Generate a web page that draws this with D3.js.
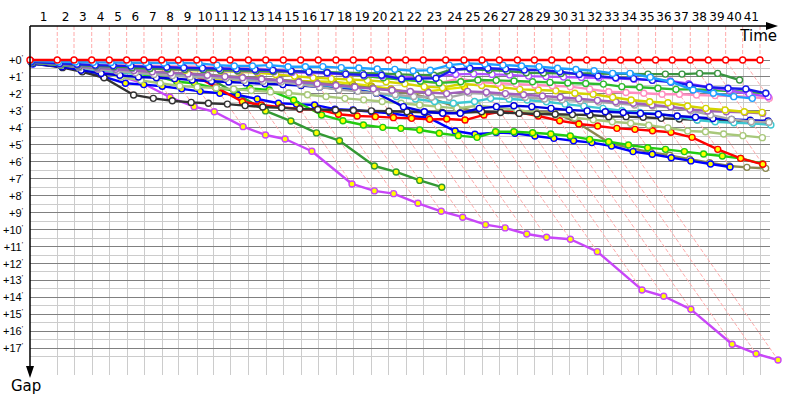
<!DOCTYPE html>
<html><head><meta charset="utf-8">
<script src="https://cdn.jsdelivr.net/npm/d3@7"></script>
<style>
body{margin:0;background:#fff}
svg{display:block;font-family:Tahoma,"DejaVu Sans",Verdana,sans-serif}
</style>
</head><body>
<svg id="chart" width="800" height="400"></svg>
<script>
// leader lap times (gap units)
const lapTimes = [2.31,1.42,1.50,1.49,1.47,1.47,1.50,1.41,1.56,1.41, 1.42,1.55,1.47,1.49,1.47,1.49,1.50,1.47,1.50,1.47, 1.47,1.49,1.90,1.55,1.53,1.47,1.53,1.44,1.47,1.49, 1.47,1.41,1.47,1.49,1.47,1.41,1.53,1.53,1.47,1.44, 1.47];
const lapLabels = ["1","2","3","4","5","6","7","8","9","10","11","12","13","14","15","16","17","18","19","20","21","22","23","24","25","26","27","28","29","30","31","32","33","34","35","36","37","38","39","40","41"];
const gapTicks = [0,1,2,3,4,5,6,7,8,9,10,11,12,13,14,15,16,17];

// gaps per lap (lap 0 = start)
const gapsLeader = [0,0,0,0,0,0,0,0,0,0, 0,0,0,0,0,0,0,0,0,0, 0,0,0,0,0,0,0,0,0,0, 0,0,0,0,0,0,0,0,0,0, 0,0];
const gapsSkyBlue = [0.05,0.1,0.12,0.14,0.15,0.16,0.16,0.18,0.18,0.2, 0.3,0.35,0.35,0.3,0.4,0.4,0.39,0.45,0.47,0.53, 0.55,0.63,0.6,0.3,0.2,0.24,0.3,0.35,0.39,0.49, 0.56,0.63,0.79,0.79,1.02,1.28,1.77,1.96,2.16,2.26];
const gapsBlueA = [0.1,0.2,0.25,0.3,0.33,0.36,0.4,0.43,0.46,0.48, 0.5,0.53,0.56,0.6,0.65,0.7,0.75,0.83,0.88,0.9, 1.12,1.1,1.08,0.59,0.49,0.49,0.53,0.59,0.59,0.69, 0.85,0.95,1.05,1.1,1.2,1.3,1.47,1.61,1.67,1.71, 1.96];
const gapsDarkGreenA = [0.1,0.22,0.3,0.35,0.4,0.45,0.5,0.52,0.55,0.57, 0.6,0.62,0.64,0.66,0.68,0.7,0.72,0.75,0.78,0.8, 0.85,0.88,0.9,0.55,0.55,0.59,0.65,0.75,0.77,0.79, 0.8,0.8,0.81,0.82,0.83,0.83,0.83,0.79,0.79,1.18];
const gapsViolet = [0.12,0.25,0.35,0.4,0.45,0.48,0.5,0.53,0.56,0.6, 0.62,0.65,0.68,0.7,0.73,0.76,0.8,0.85,0.9,0.95, 1.0,1.02,0.98,0.85,0.82,0.85,0.88,0.95,0.98,1.0, 1.03,1.05,1.08,1.14,1.18,1.24,1.4,1.6,1.8,2.0, 2.16];
const gapsGreenA = [0.15,0.3,0.38,0.42,0.45,0.48,0.5,0.52,0.55,0.58, 0.6,0.62,0.64,0.66,0.68,0.69,0.75,0.85,0.95,1.05, 1.15,1.25,1.35,1.28,1.18,1.2,1.24,1.28,1.32,1.36, 1.39,1.42,1.57,1.61,1.67,1.73,1.73,1.77,1.83,1.87, 1.96];
const gapsPink = [0.1,0.2,0.25,0.28,0.3,0.32,0.34,0.36,0.38,0.4, 0.42,0.45,0.5,0.55,0.62,0.7,0.78,0.86,0.95,1.05, 1.15,1.25,1.37,1.1,1.3,1.37,1.42,1.47,1.52,1.57, 1.72,1.87,1.92,1.96,2.02,2.02,2.06,2.1,2.12,2.2, 2.26];
const gapsYellow = [0.1,0.2,0.3,0.35,0.4,0.45,0.5,0.55,0.6,0.62, 0.65,0.7,0.75,0.85,0.95,1.05,1.1,1.15,1.2,1.28, 1.4,1.57,1.63,1.4,1.5,1.61,1.73,1.77,1.81,1.96, 2.02,2.2,2.36,2.46,2.52,2.71,2.85,2.95,3.05,3.09];
const gapsOrchid = [0.15,0.3,0.4,0.48,0.55,0.62,0.7,0.76,0.82,0.9, 0.98,1.05,1.12,1.2,1.3,1.4,1.5,1.6,1.7,1.78, 1.86,1.92,1.98,1.85,1.9,1.98,2.05,2.12,2.2,2.28, 2.38,2.46,2.55,2.65,2.75,2.91,3.01,3.05,3.09,3.14];
const gapsGray = [0.15,0.3,0.45,0.55,0.65,0.75,0.85,0.92,1.0,1.05, 1.08,1.2,1.25,1.3,1.45,1.6,1.75,1.85,1.95,2.05, 2.15,2.2,2.2,1.95,2.0,2.1,2.2,2.3,2.35,2.42, 2.48,2.55,2.65,2.71,2.79,2.99,3.24,3.5,3.64,3.67];
const gapsBlueB = [0.2,0.4,0.6,0.8,0.9,1.0,1.05,1.1,1.18,1.25, 1.3,1.35,1.4,1.45,1.5,1.6,1.7,1.8,1.96,2.75, 3.05,3.14,3.14,2.85,2.75,2.7,2.75,2.85,2.95,3.0, 3.05,3.1,3.15,3.2,3.3,3.38,3.45,3.5,3.55,3.6];
const gapsCyan = [0.2,0.35,0.5,0.6,0.7,0.8,0.85,0.9,0.95,1.0, 1.05,1.1,1.2,1.3,1.4,1.48,1.57,1.73,1.96,2.16, 2.3,2.45,2.55,2.45,2.26,2.3,2.36,2.46,2.6,2.72, 2.85,2.99,3.1,3.18,3.34,3.54,3.64,3.7,3.73,3.83];
const gapsBlack = [0.2,0.45,0.7,1.05,2.06,2.26,2.4,2.5,2.55,2.6, 2.69,2.77,2.82,2.88,2.92,2.95,2.98,3.0,3.02,3.05, 3.08,3.1,3.12,3.05,3.1,3.15,3.18,3.2,3.22,3.24, 3.34,3.34,3.38,3.44,3.48,3.52,3.56,3.6,3.65,3.7];
const gapsLightOlive = [0.2,0.4,0.6,0.8,1.0,1.2,1.37,1.53,1.6,1.65, 1.72,1.8,1.88,1.95,2.05,2.15,2.26,2.35,2.45,2.55, 2.65,2.75,2.85,2.7,2.8,2.95,3.1,3.25,3.4,3.52, 3.64,3.73,3.85,4.0,4.19,4.23,4.36,4.46,4.58];
const gapsRedB = [0.1,0.2,0.3,0.35,0.4,0.45,0.5,0.55,0.59,1.6, 2.46,2.65,2.79,2.89,2.91,3.2,3.3,3.34,3.4,3.44, 3.5,3.48,3.54,3.24,3.05,3.09,3.3,3.58,3.77,3.89, 4.03,4.09,4.17,4.26,4.56,5.27,5.8,6.15];
const gapsLime = [0.1,0.3,0.45,0.6,0.7,0.82,0.94,1.28,1.37,1.67, 1.77,1.67,1.77,2.36,3.24,3.58,3.83,3.97,4.03,4.13, 4.32,4.46,4.56,4.23,4.23,4.29,4.36,4.48,4.68,4.82, 5.01,5.17,5.27,5.4,5.54,5.66,5.8,6.13];
const gapsBlueC = [0.24,0.39,0.59,0.98,1.37,1.45,1.55,1.7,1.85,1.96, 2.06,2.3,2.55,2.6,2.65,2.9,2.95,3.05,3.14,3.3, 3.4,4.19,4.38,4.28,4.32,4.48,4.62,4.76,4.87,5.07, 5.4,5.56,5.76,5.95,6.13,6.31];
const gapsOlive = [0.15,0.3,0.4,0.5,0.6,0.65,0.7,0.75,0.8,0.85, 0.95,1.0,1.1,1.17,1.25,1.35,1.45,1.55,1.65,1.8, 2.0,2.3,2.75,3.14,3.05,3.05,3.07,3.09,3.73,4.9, 5.2,5.45,5.62,5.85,6.05,6.25,6.33,6.39];
const gapsPurple = [0.15,0.35,0.5,0.65,0.95,1.37,2.2,2.75,3.05,3.93, 4.42,4.66,5.38,7.31,7.72,7.88,8.45,8.92,9.27,9.71, 9.9,10.26,10.45,10.57,11.3,13.56,13.93,14.7,16.76,17.32, 17.69];
const gapsDarkGreenB = [0.1,0.3,0.45,0.55,0.65,0.75,0.85,0.9,0.95,1.06, 2.0,3.0,3.6,4.3,4.76,6.25,6.6,7.1,7.5];
const gapsYellowB = [0.1,0.2,0.3,0.39,0.49,0.59,0.69,0.79,0.98,1.1, 1.15,1.18,1.2,1.22,1.24,1.26,1.28,1.4,1.53,1.7, 1.93,1.85,1.73,1.6];

// drawing table (bottom first, leader last)
const series = [
  {gaps:gapsYellowB, color:"#e2e200", stroke:"#c8b000", fill:"#ffff00"},
  {gaps:gapsDarkGreenB, color:"#339933", fill:"#ffff00"},
  {gaps:gapsPurple, color:"#c846f8", fill:"#ffff00"},
  {gaps:gapsOlive, color:"#8a8850", fill:"#ffffff"},
  {gaps:gapsBlueC, color:"#0000ff", fill:"#ffff00"},
  {gaps:gapsLime, color:"#22cc11", fill:"#ffff00"},
  {gaps:gapsRedB, color:"#ff0000", fill:"#ffff00"},
  {gaps:gapsLightOlive, color:"#a8c87a", fill:"#ffffff"},
  {gaps:gapsBlack, color:"#333333", fill:"#ffffff"},
  {gaps:gapsCyan, color:"#3cc8d2", fill:"#ffffff"},
  {gaps:gapsBlueB, color:"#0000dd", fill:"#ffffff"},
  {gaps:gapsGray, color:"#a8a8a8", fill:"#ffffff"},
  {gaps:gapsOrchid, color:"#a060bc", fill:"#ffffff"},
  {gaps:gapsYellow, color:"#d4d400", fill:"#ffffff"},
  {gaps:gapsPink, color:"#ff8ec0", fill:"#ffffff"},
  {gaps:gapsGreenA, color:"#2dbb2d", fill:"#ffffff"},
  {gaps:gapsViolet, color:"#b050ff", fill:"#ffffff"},
  {gaps:gapsDarkGreenA, color:"#3a9440", fill:"#ffffff"},
  {gaps:gapsBlueA, color:"#1a1aee", fill:"#ffffff"},
  {gaps:gapsSkyBlue, color:"#1f9fff", fill:"#ffffff"},
  {gaps:gapsLeader, color:"#ff0000", fill:"#ffffff"}
];

const cum = [0];
lapTimes.forEach((t,i)=>cum.push(cum[i]+t));
const x = d3.scaleLinear().domain([0, cum[cum.length-1]]).range([30, 760]);
const y = d3.scaleLinear().domain([0, 17]).range([60, 348.3]);
const svg = d3.select("#chart");

const gridX0 = 30, gridX1 = 770, gridY1 = 375, axisY = 26;

// horizontal grid
const halfTicks = gapTicks.map(g=>g+0.5);
svg.append("g").selectAll("line").data(halfTicks).join("line")
  .attr("x1",gridX0).attr("x2",gridX1).attr("y1",d=>y(d)).attr("y2",d=>y(d))
  .attr("stroke","#cccccc").attr("stroke-width",1).attr("shape-rendering","crispEdges");
// vertical grid below zero
svg.append("g").selectAll("line").data(d3.range(1, cum.length)).join("line")
  .attr("x1",n=>Math.round(x(cum[n]))+0.5).attr("x2",n=>Math.round(x(cum[n]))+0.5)
  .attr("y1",y(0)).attr("y2",gridY1)
  .attr("stroke","#cccccc").attr("stroke-width",1);
svg.append("g").selectAll("line").data(gapTicks).join("line")
  .attr("x1",gridX0).attr("x2",gridX1).attr("y1",d=>y(d)).attr("y2",d=>y(d))
  .attr("stroke","#808080").attr("stroke-width",1).attr("shape-rendering","crispEdges");

// lap lines: vertical above zero, then diagonal to slowest car of that lap
const lapPaths = d3.range(1, cum.length).map(n=>{
  const gs = series.filter(s=>s.gaps.length>n).map(s=>s.gaps[n]);
  const mg = d3.max(gs);
  const xx = x(cum[n]);
  return `M${xx},${axisY}L${xx},${y(0)}L${x(cum[n]+mg)},${y(mg)}`;
});
svg.append("g").selectAll("path").data(lapPaths).join("path")
  .attr("d",d=>d).attr("fill","none").attr("stroke","#ffaaaa")
  .attr("stroke-width",1).attr("stroke-dasharray","4,2");

// series
const line = d3.line().x(d=>x(d.t)).y(d=>y(d.g));
series.forEach(s=>{
  const pts = s.gaps.map((g,n)=>({t:cum[n]+g, g}));
  const g = svg.append("g");
  g.append("path").datum(pts).attr("d",line).attr("fill","none")
    .attr("stroke",s.color).attr("stroke-width",2.4).attr("stroke-linejoin","round");
  g.selectAll("circle").data(pts).join("circle")
    .attr("cx",d=>x(d.t)).attr("cy",d=>y(d.g)).attr("r",3)
    .attr("fill",s.fill).attr("stroke",s.stroke||s.color).attr("stroke-width",1.4);
});

// axes
svg.append("line").attr("x1",gridX0).attr("x2",768).attr("y1",axisY).attr("y2",axisY)
  .attr("stroke","#000").attr("stroke-width",1.5);
svg.append("path").attr("d",`M778,${axisY}L766,${axisY-4}L766,${axisY+4}Z`).attr("fill","#000");
svg.append("line").attr("x1",gridX0).attr("x2",gridX0).attr("y1",axisY).attr("y2",368)
  .attr("stroke","#000").attr("stroke-width",1.5);
svg.append("path").attr("d",`M${gridX0},378L${gridX0-4},366L${gridX0+4},366Z`).attr("fill","#000");

svg.append("g").selectAll("text").data(lapLabels).join("text")
  .attr("x",(d,i)=>x((cum[i]+cum[i+1])/2)).attr("y",21)
  .attr("text-anchor","middle").attr("font-size",12).attr("fill","#000").text(d=>d);

const yl = svg.append("g").selectAll("text").data(gapTicks).join("text")
  .attr("x",23).attr("y",d=>y(d)+4).attr("text-anchor","end")
  .attr("font-family","'Liberation Sans',Arial,sans-serif")
  .attr("font-size",11).attr("fill","#000");
yl.append("tspan").text(d=>"+"+d);
yl.append("tspan").attr("font-size",7).attr("dy",-4).text("'");

svg.append("text").attr("x",777).attr("y",41).attr("text-anchor","end")
  .attr("font-size",15).attr("fill","#000").text("Time");
svg.append("text").attr("x",11).attr("y",391)
  .attr("font-size",15).attr("fill","#000").text("Gap");
</script>
</body></html>
